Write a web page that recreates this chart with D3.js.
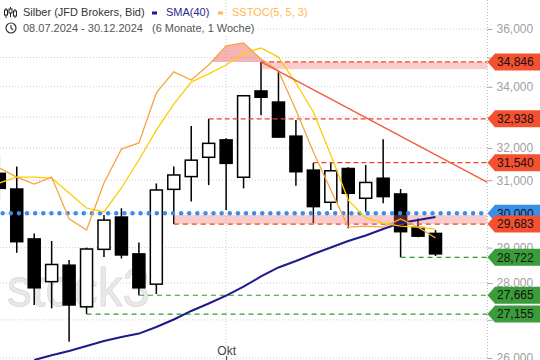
<!DOCTYPE html>
<html><head><meta charset="utf-8">
<script src="https://cdn.jsdelivr.net/npm/d3@7"></script>
<style>html,body{margin:0;padding:0;background:#fff;overflow:hidden}</style>
</head><body><svg id="c" width="540" height="360"></svg>
<script>
// ---------- data ----------
const dates = ["08.07.2024","15.07.2024","22.07.2024","29.07.2024","05.08.2024","12.08.2024","19.08.2024","26.08.2024","02.09.2024","09.09.2024","16.09.2024","23.09.2024","30.09.2024","07.10.2024","14.10.2024","21.10.2024","28.10.2024","04.11.2024","11.11.2024","18.11.2024","25.11.2024","02.12.2024","09.12.2024","16.12.2024","23.12.2024","30.12.2024"];
const open  = [31210,30730,29250,28040,28500,27350,28950,29890,28820,27970,30720,31110,31710,32260,31090,33860,33490,32380,31310,30330,31360,30450,31060,30580,29580,29410];
const high  = [31780,31420,29410,29190,28650,29000,29950,30150,29150,30900,31420,32710,32938,32310,33720,34846,34540,32900,31540,31530,31400,31470,32280,30730,29850,29510];
const low   = [30400,28850,27400,27310,26420,27155,28730,28690,27665,27700,29683,30350,30850,30100,30750,33060,32330,30830,29710,30100,29560,30050,30300,28722,29300,28760];
const close = [30750,29170,27870,28520,27400,28960,29800,28790,27870,30700,31160,31620,32150,31520,33700,33650,32350,31260,30200,31290,30600,30930,30500,29460,29330,28820];
const sma40 = [null,null,25948,26070,26181,26311,26441,26546,26636,26810,27010,27238,27441,27653,27901,28184,28436,28618,28817,29003,29190,29349,29539,29714,29803,29891];
const sstocK = [37.2,33.5,30.7,33.5,16.6,12.1,31.1,44.8,47.3,67.5,76.0,72.7,78.8,86.5,87.7,81.2,76.4,60.6,43.6,28.3,13.3,13.7,13.3,16.6,13.3,8.9];
const sstocD = [31.1,33.5,33.5,33.1,27.1,21.0,19.4,29.1,40.4,52.5,63.0,71.9,75.2,78.8,83.6,85.7,82.0,71.5,59.8,42.4,24.2,17.0,14.9,13.7,13.3,12.5];
const overbought = 80;
const yTicks = [26000,27000,28000,29000,30000,31000,32000,33000,34000,35000,36000];
const yTicksHiddenLabel = [27000,30000,33000,35000];
const xTickIndex = [13];
const xTickLabels = ["Okt"];
const resistValues = [34846,32938,31540];
const resistStart  = [15,12,18];
const supportValues = [29683,28722,27665,27155];
const supportStart  = [10,23,8,5];
const roundLevel = 30000;
const zones = [[34600,34846,15],[29683,29950,10]];
const trendIdx = [15,25];
const trendVal = [34846,31790];

// ---------- layout ----------
const plotRight = 487.5;
const svg = d3.select('#c');
const font = "Arial, 'Liberation Sans', sans-serif";
const x = d3.scaleLinear().domain([0,25]).range([-0.7,435.5]);
const y = d3.scaleLog().domain([26000,36000]).range([358,29]);
const osc = d3.scaleLinear().domain([0,100]).range([260,12.5]);

const defs = svg.append('defs');
defs.append('clipPath').attr('id','plot').append('rect').attr('x',0).attr('y',0).attr('width',plotRight).attr('height',360);
defs.append('clipPath').attr('id','ob').append('rect').attr('x',0).attr('y',0).attr('width',plotRight).attr('height',osc(overbought));

// gridlines
const grid = svg.append('g');
grid.selectAll('line.h').data(yTicks).join('line')
  .attr('x1',0).attr('x2',plotRight).attr('y1',d=>y(d)).attr('y2',d=>y(d))
  .attr('stroke','#cfcfcf').attr('stroke-dasharray','1 2');
grid.selectAll('line.v').data(xTickIndex).join('line')
  .attr('x1',d=>x(d)).attr('x2',d=>x(d)).attr('y1',0).attr('y2',356)
  .attr('stroke','#cfcfcf').attr('stroke-dasharray','1 2');
grid.append('line').attr('x1',plotRight).attr('x2',plotRight).attr('y1',0).attr('y2',360)
  .attr('stroke','#bbb').attr('stroke-dasharray','1 2');

// watermark
svg.append('text').attr('x',7).attr('y',306).text('stock3')
  .attr('font-family',font).attr('font-size',54).attr('textLength',143).attr('lengthAdjust','spacingAndGlyphs')
  .attr('fill','#e8e8e8').attr('stroke','#dadada').attr('stroke-width',0.8);

const plot = svg.append('g').attr('clip-path','url(#plot)');

// candles
const cg = plot.append('g');
const idx = d3.range(dates.length);
cg.selectAll('line.wick').data(idx).join('line')
  .attr('x1',i=>x(i)).attr('x2',i=>x(i)).attr('y1',i=>y(high[i])).attr('y2',i=>y(low[i]))
  .attr('stroke','#000').attr('stroke-width',1.5);
cg.selectAll('rect.body').data(idx).join('rect')
  .attr('x',i=>x(i)-6).attr('width',12)
  .attr('y',i=>y(Math.max(open[i],close[i])))
  .attr('height',i=>Math.max(1,Math.abs(y(open[i])-y(close[i]))))
  .attr('fill',i=>close[i]>=open[i]?'#fff':'#000')
  .attr('stroke','#000').attr('stroke-width',1.5);

// zones
plot.selectAll('rect.zone').data(zones).join('rect')
  .attr('x',d=>x(d[2])).attr('width',d=>plotRight-x(d[2]))
  .attr('y',d=>y(d[1])).attr('height',d=>y(d[0])-y(d[1]))
  .attr('fill','#ee6a6a').attr('opacity',0.35);

// level lines
plot.selectAll('line.res').data(resistValues).join('line')
  .attr('x1',(d,i)=>x(resistStart[i])).attr('x2',plotRight).attr('y1',d=>y(d)).attr('y2',d=>y(d))
  .attr('stroke','#f0402a').attr('stroke-width',1.2).attr('stroke-dasharray','5 3');
plot.selectAll('line.sup').data(supportValues).join('line')
  .attr('x1',(d,i)=>x(supportStart[i])).attr('x2',plotRight).attr('y1',d=>y(d)).attr('y2',d=>y(d))
  .attr('stroke',(d,i)=>i===0?'#f0402a':'#2e9a2e').attr('stroke-width',1.2).attr('stroke-dasharray','5 4');
plot.append('line').attr('x1',2.7).attr('x2',plotRight).attr('y1',y(roundLevel)).attr('y2',y(roundLevel))
  .attr('stroke','#3b8ee8').attr('stroke-width',4.5).attr('stroke-linecap','round').attr('stroke-dasharray','0.01 8.1');

// SMA
plot.append('path').datum(idx).attr('fill','none').attr('stroke','#1e1a8c').attr('stroke-width',2)
  .attr('d',d3.line().defined(i=>sma40[i]!=null).x(i=>x(i)).y(i=>y(sma40[i])));

// overbought fill
plot.append('g').attr('clip-path','url(#ob)').append('path').datum(idx)
  .attr('fill','#ee6a6a').attr('opacity',0.5)
  .attr('d',d3.area().x(i=>x(i)).y0(osc(overbought)).y1(i=>osc(sstocK[i])));

// SSTOC lines
plot.append('path').datum(idx).attr('fill','none').attr('stroke','#ffcc00').attr('stroke-width',1.3)
  .attr('d',d3.line().x(i=>x(i)).y(i=>osc(sstocD[i])));
plot.append('path').datum(idx).attr('fill','none').attr('stroke','#f7a444').attr('stroke-width',1.3)
  .attr('d',d3.line().x(i=>x(i)).y(i=>osc(sstocK[i])));

// trendline
{
  const x0 = x(trendIdx[0]), y0 = y(trendVal[0]);
  const slope = (y(trendVal[1])-y0)/(x(trendIdx[1])-x0);
  plot.append('line').attr('x1',x0).attr('y1',y0).attr('x2',plotRight).attr('y2',y0+slope*(plotRight-x0))
    .attr('stroke','#f05a3c').attr('stroke-width',1.3);
}

// right axis
const ax = svg.append('g').attr('transform',`translate(${plotRight},0)`)
  .call(d3.axisRight(y).tickValues(yTicks)
    .tickFormat(d=>yTicksHiddenLabel.includes(d)?'':d3.format(',')(d)).tickSize(5).tickPadding(4));
ax.select('.domain').remove();
ax.selectAll('line').attr('stroke','#aaa');
ax.selectAll('text').attr('fill','#a0a0a0').attr('font-size',12).attr('font-family',font);

// bottom axis
const bx = svg.append('g').attr('transform','translate(0,360)')
  .call(d3.axisTop(x).tickValues(xTickIndex).tickFormat((d,i)=>xTickLabels[i]).tickSize(4).tickPadding(1));
bx.select('.domain').remove();
bx.selectAll('line').attr('stroke','#333');
bx.selectAll('text').attr('fill','#444').attr('font-size',12).attr('font-family',font);

// tags
const tags = [{v:roundLevel,c:'#3a8ee8'}]
  .concat(resistValues.map(v=>({v,c:'#f5502f'})))
  .concat(supportValues.map((v,i)=>({v,c:i===0?'#f5502f':'#3a9c3a'})));
const tg = svg.append('g');
tags.forEach(t=>{
  const cy = y(t.v);
  tg.append('path').attr('d',`M${plotRight},${cy}L495,${cy-8.5}L540,${cy-8.5}L540,${cy+8.5}L495,${cy+8.5}Z`).attr('fill',t.c);
  tg.append('text').attr('x',497).attr('y',cy).attr('dy','0.35em').text(d3.format(',')(t.v))
    .attr('font-size',12).attr('font-family',font).attr('fill','#111');
});

// legend
const lg = svg.append('g').attr('font-family',font).attr('font-size',11);
lg.append('rect').attr('x',0).attr('y',20).attr('width',258).attr('height',16).attr('fill','#fff');
// candle icon
[[6,8,18,10,15],[10.5,7,17,9,13],[15,9,18,11,16]].forEach(c=>{
  lg.append('line').attr('x1',c[0]).attr('x2',c[0]).attr('y1',c[1]).attr('y2',c[2]).attr('stroke','#222').attr('stroke-width',1);
  lg.append('rect').attr('x',c[0]-1.5).attr('y',c[3]).attr('width',3).attr('height',c[4]-c[3]).attr('fill','#fff').attr('stroke','#222').attr('stroke-width',1);
});
lg.append('text').attr('x',23).attr('y',16).text('Silber (JFD Brokers, Bid)').attr('fill','#333');
lg.append('rect').attr('x',152).attr('y',11.5).attr('width',5).attr('height',3).attr('fill','#1e1a8c');
lg.append('text').attr('x',166).attr('y',16).text('SMA(40)').attr('fill','#2a2a90');
lg.append('rect').attr('x',218).attr('y',11.5).attr('width',5).attr('height',3).attr('fill','#ffb84d');
lg.append('text').attr('x',232).attr('y',16).text('SSTOC(5, 5, 3)').attr('fill','#ffb84d');
// clock icon
lg.append('circle').attr('cx',11).attr('cy',28).attr('r',5).attr('fill','none').attr('stroke','#333').attr('stroke-width',1.2);
lg.append('path').attr('d','M11,25V28L13,30').attr('fill','none').attr('stroke','#333').attr('stroke-width',1.1);
lg.append('text').attr('x',23).attr('y',32).text(dates[0]+' - '+dates[dates.length-1]).attr('fill','#555');
lg.append('text').attr('x',152).attr('y',32).text('(6 Monate, 1 Woche)').attr('fill','#555');
</script></body></html>
